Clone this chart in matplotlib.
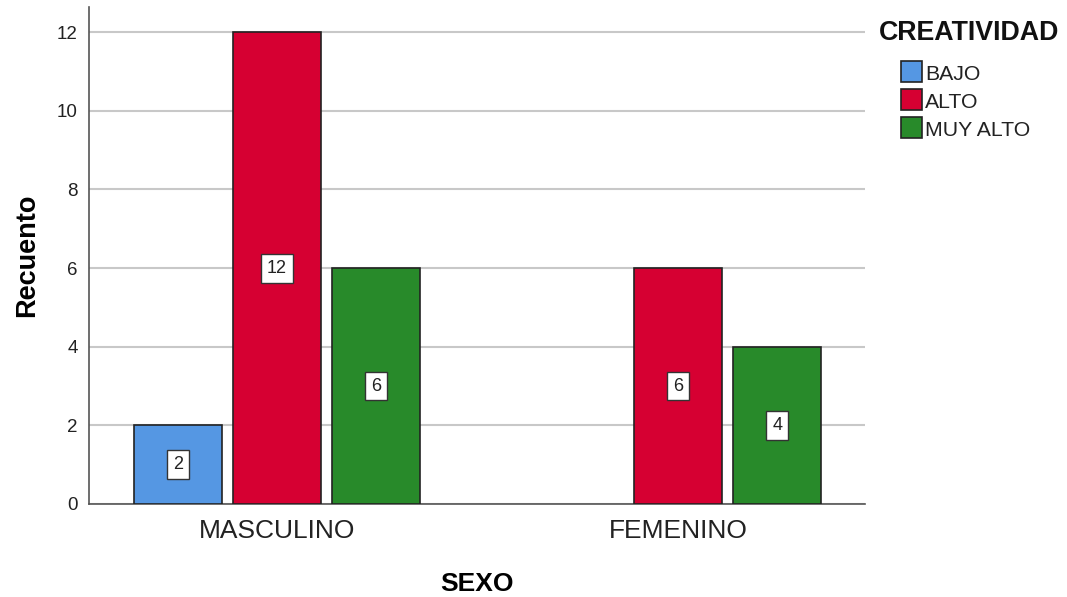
import matplotlib
matplotlib.use("Agg")
import matplotlib.pyplot as plt
from matplotlib.patches import Rectangle
import numpy as np

plt.rcParams['font.family'] = ['Liberation Sans', 'DejaVu Sans']

categories = ["MASCULINO", "FEMENINO"]
series_names = ["BAJO", "ALTO", "MUY ALTO"]
bajo = [2, 0]
alto = [12, 6]
muy_alto = [6, 4]
series_values = [bajo, alto, muy_alto]
colors = ["#5597E3", "#D60032", "#288A2A"]
y_ticks = [0, 2, 4, 6, 8, 10, 12]

fig = plt.figure(figsize=(10.67, 5.97), dpi=100)
ax = fig.add_axes([89/1067, 1 - 504/597, (865-89)/1067, (504-7)/597])

x = np.arange(len(categories))
width = 0.219
pitch = 0.247
for i, (name, vals, c) in enumerate(zip(series_names, series_values, colors)):
    pos = x + (i - 1) * pitch
    for p, v in zip(pos, vals):
        if v > 0:
            ax.bar(p, v, width=width, color=c, edgecolor="#222222", linewidth=1.2, zorder=3)
            ax.text(p, v / 2, str(v), ha="center", va="center", fontsize=13, zorder=4,
                    color="#222222",
                    bbox=dict(boxstyle="square,pad=0.33", facecolor="white", edgecolor="#333333", linewidth=1))

ax.set_xlim(-0.469, 1.466)
ax.set_ylim(0, 12.64)
ax.set_yticks(y_ticks)
ax.set_yticklabels([str(t) for t in y_ticks], fontsize=13.5, color="#222222")
ax.set_xticks(x)
ax.set_xticklabels(categories, fontsize=19, color="#222222")
ax.tick_params(axis="both", length=0)
ax.tick_params(axis="y", pad=8)
ax.tick_params(axis="x", pad=11)
ax.yaxis.grid(True, color="#c8c8c8", linewidth=1.5, zorder=0)
ax.set_axisbelow(True)
for s in ["top", "right"]:
    ax.spines[s].set_visible(False)
for s in ["left", "bottom"]:
    ax.spines[s].set_color("#555555")
    ax.spines[s].set_linewidth(1.2)

ax.set_ylabel("Recuento", fontsize=19.5, fontweight="bold", labelpad=12)
ax.set_xlabel("SEXO", fontsize=19, fontweight="bold", labelpad=21)

# legend
fig.text(879/1067, 1 - 33/597, "CREATIVIDAD", fontsize=19.3, fontweight="bold",
         ha="left", va="center", color="#111111")
for k, (name, c) in enumerate(zip(series_names, colors)):
    ytop = 61 + 28 * k
    fig.add_artist(Rectangle((901/1067, 1 - (ytop + 21)/597), 21/1067, 21/597,
                             transform=fig.transFigure, facecolor=c, edgecolor="#222222", linewidth=1.2))
    fig.text(925/1067, 1 - (ytop + 13)/597, name, fontsize=15.3, ha="left", va="center", color="#222222")

fig.savefig("out.png", dpi=100)
